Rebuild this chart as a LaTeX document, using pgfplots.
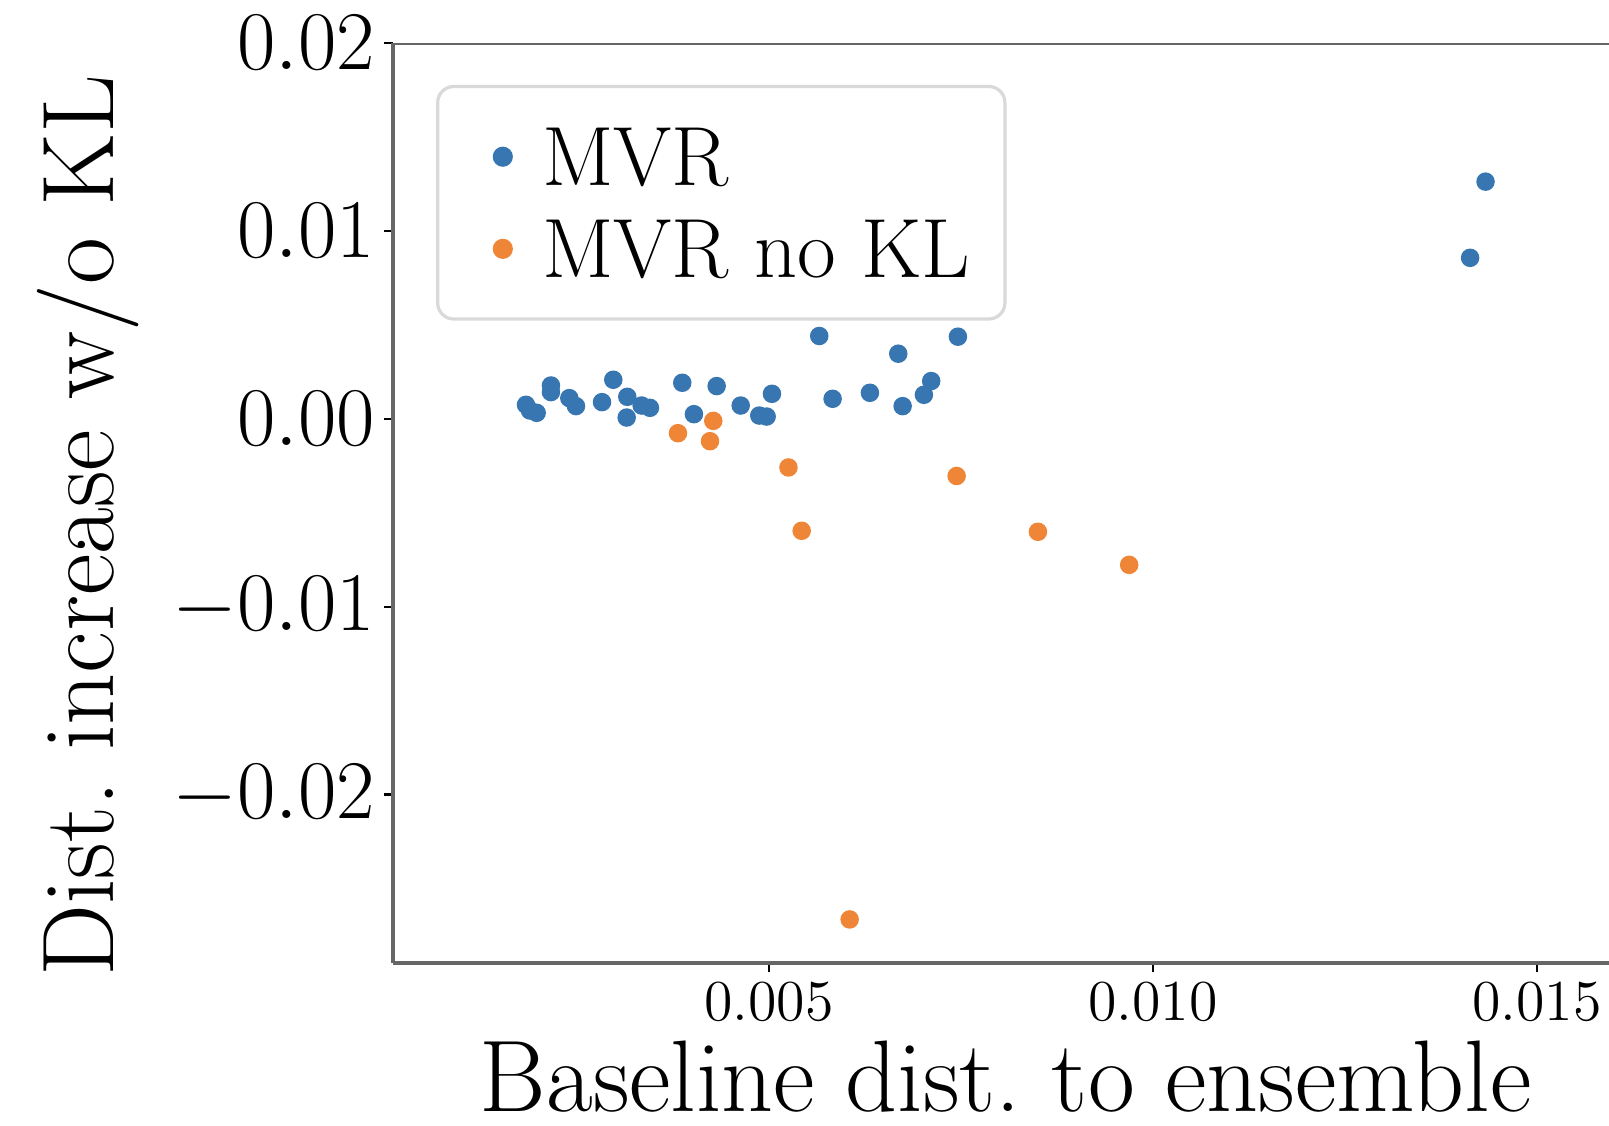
\documentclass[border=0pt]{standalone}
\usepackage{pgfplots}
\pgfplotsset{compat=1.18}
\usetikzlibrary{calc}
\definecolor{mblue}{RGB}{55,118,176}
\definecolor{morange}{RGB}{239,133,54}
\begin{document}
\begin{tikzpicture}
\begin{axis}[
  width=302.3pt, height=228.7pt, scale only axis,
  xmin=0.000104, xmax=0.01594, ymin=-0.02896, ymax=0.02,
  axis x line*=bottom, axis y line*=left,
  axis line style={black!60, line width=0.9pt},
  xtick={0.005,0.010,0.015}, ytick={-0.02,-0.01,0,0.01,0.02},
  xticklabels={$0.005$,$0.010$,$0.015$},
  yticklabels={$-0.02$,$-0.01$,$0.00$,$0.01$,$0.02$},
  scaled ticks=false,
  tick align=outside, major tick length=2.2pt,
  tick style={black, line width=0.6pt},
  xticklabel style={font=\fontsize{13.4}{16}\selectfont, inner sep=0pt, anchor=north, yshift=-2.7pt},
  yticklabel style={font=\fontsize{19.6}{23}\selectfont, inner sep=0pt, anchor=east, xshift=-2.1pt},
  xlabel={Baseline dist.\ to ensemble},
  ylabel={Dist.\ increase w/o KL},
  label style={font=\fontsize{25.3}{30}\selectfont},
  xlabel style={at={(axis description cs:0.5038,-0.1610)}, anchor=base, inner sep=0pt},
  ylabel style={at={(axis description cs:-0.2300,0.4753)}, anchor=base, inner sep=0pt},
  legend style={at={(axis description cs:0.0354,0.9545)}, anchor=north west,
    draw=black!15, line width=0.8pt, rounded corners=4pt,
    font=\fontsize{20.9}{25}\selectfont,
    inner xsep=8.6pt, inner ysep=10.3pt, row sep=8.6pt,
    nodes={inner sep=0pt, text height=14.3pt, text depth=0pt},
    /tikz/every odd column/.append style={column sep=7.7pt}},
  legend cell align=left,
  legend image code/.code={\path[draw=none,fill=none] (-7.6pt,0pt) -- (2.1pt,0pt); \draw[#1] plot coordinates {(0pt,0pt)};},
]
\addplot[only marks, mark=*, mark size=2.1pt, draw=mblue, fill=mblue] table {
x y
0.001836 0.000747
0.001888 0.000443
0.001975 0.000320
0.002161 0.001776
0.002161 0.001424
0.002400 0.001104
0.002487 0.000677
0.002826 0.000890
0.002973 0.002080
0.003155 0.001173
0.003147 0.000070
0.003342 0.000709
0.003450 0.000587
0.003871 0.001920
0.004023 0.000250
0.004319 0.001744
0.004632 0.000709
0.004874 0.000176
0.004970 0.000123
0.005039 0.001333
0.005655 0.004410
0.005829 0.001067
0.006315 0.001387
0.006684 0.003467
0.006741 0.000677
0.007018 0.001280
0.007113 0.002011
0.007461 0.004373
0.014131 0.008570
0.014332 0.012624
};
\addlegendentry{MVR}
\addplot[only marks, mark=*, mark size=2.1pt, draw=morange, fill=morange] table {
x y
0.003815 -0.000763
0.004275 -0.000107
0.004232 -0.001189
0.005254 -0.002587
0.005426 -0.005957
0.006051 -0.026640
0.007444 -0.003040
0.008503 -0.006010
0.009691 -0.007770
};
\addlegendentry{MVR no KL}
\draw[black!60, line width=0.9pt] (rel axis cs:0,1) -- (rel axis cs:1,1);
\coordinate (bl) at (rel axis cs:0,0);
\coordinate (tr) at (rel axis cs:1,1);
\end{axis}
\pgfresetboundingbox
\path ($(bl)+(-97.7pt,-40.3pt)$) rectangle ($(tr)+(0pt,10.7pt)$);
\end{tikzpicture}
\end{document}
